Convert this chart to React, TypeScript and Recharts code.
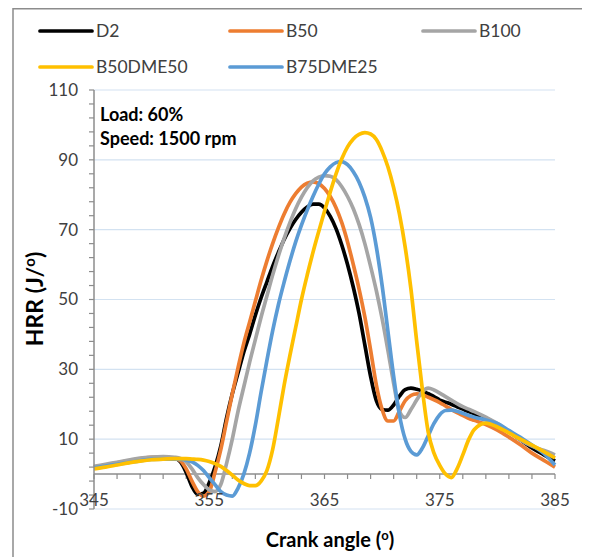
import React from 'react';
import { LineChart, Line, XAxis, YAxis, ReferenceLine } from 'recharts';

// crank angle (deg), finer steps around combustion
const angles = [
  345, 346, 347, 348, 349, 350, 351, 352,
  352.5, 353, 353.5, 354, 354.5, 355, 355.5, 356,
  356.5, 357, 357.5, 358, 358.5, 359, 359.5, 360,
  360.5, 361, 361.5, 362, 362.5, 363, 363.5, 364,
  364.5, 365, 365.5, 366, 366.5, 367, 367.5, 368,
  368.5, 369, 369.5, 370, 370.5, 371, 371.5, 372,
  372.5, 373, 373.5, 374, 374.5, 375, 375.5, 376,
  376.5, 377, 377.5, 378,
  379, 380, 381, 382, 383, 384, 385,
];

const d2 = [
  2.0, 2.5, 3.0, 3.7, 4.3, 4.6, 4.7, 4.5,
  3.5, 0.5, -3.5, -5.8, -5.5, -2.5, 2.0, 8.0,
  16, 23, 29, 35, 40, 45.5, 50.5, 55,
  59.5, 63.5, 67.2, 70.3, 72.9, 75, 76.5, 77.3,
  77.3, 76.2, 73.8, 70.3, 65.6, 60, 53.5, 46,
  37, 28, 21, 18.5, 18.3, 19.8, 22.3, 24.2,
  24.6, 24.3, 23.8, 23.0, 22.2, 21.2, 20.6, 20.0,
  19.3, 18.6, 17.9, 17.3,
  16.0, 14.2, 12.2, 9.8, 7.5, 5.6, 3.8,
];

const b50 = [
  2.0, 2.6, 3.2, 3.8, 4.4, 4.8, 4.8, 4.5,
  3.8, 1.5, -2.0, -5.0, -6.3, -5.0, 0.5, 7.0,
  15, 23, 30.5, 37.5, 43.5, 49.5, 55.5, 61,
  66, 70.5, 74.5, 77.8, 80.3, 82.2, 83.3, 83.7,
  83.2, 81.8, 79.5, 76.3, 72, 66.5, 60, 53,
  45, 35.5, 25.5, 18.5, 15.2, 15.2, 18, 21,
  22.5, 23, 22.7, 22, 21.3, 20.5, 19.5, 18.5,
  17.6, 16.8, 16, 15.4,
  14.2, 12.6, 10.6, 8.4, 6.0, 4.0, 2.0,
];

const b100 = [
  2.2, 2.8, 3.4, 4.0, 4.6, 4.9, 5.0, 4.8,
  4.5, 3.5, 1.5, -1.0, -3.0, -4.5, -5.0, -3.0,
  3.0, 10, 18, 25, 32, 38.5, 45, 51,
  57, 62.5, 67.5, 72, 76, 79.3, 82, 84,
  85, 85.5, 85.3, 84.3, 82.3, 79.5, 76, 71.5,
  66, 59.5, 52.5, 44.5, 35.5, 26, 18, 16.2,
  18.5, 21.2, 23.6, 24.6, 24.1, 23.2, 22.2, 21.2,
  20.2, 19.3, 18.6, 17.9,
  16.3, 14.5, 12.2, 9.8, 8.0, 6.8, 5.5,
];

const b50dme50 = [
  1.5, 2.0, 2.6, 3.2, 3.7, 4.1, 4.3, 4.4,
  4.4, 4.4, 4.3, 4.2, 4.0, 3.6, 3.0, 2.2,
  1.0, -0.3, -1.7, -2.7, -3.3, -3.3, -2.0, 1.0,
  7.0, 16, 25.5, 34, 42, 50, 57, 63.5,
  69.5, 75.3, 80.8, 86, 90.3, 93.7, 96, 97.3,
  97.8, 97.4, 95.8, 92.5, 88, 82, 74.5, 65,
  53, 38, 24, 12, 6, 2.5, 0, -1.0,
  1.5, 5.5, 9.8, 12.8,
  14.6, 13.5, 11.8, 10, 8.3, 6.5, 4.6,
];

const b75dme25 = [
  1.8, 2.3, 2.8, 3.3, 3.8, 4.2, 4.3, 4.3,
  4.2, 4.0, 3.5, 2.5, 1.0, -1.0, -3.0, -5.0,
  -6.0, -6.3, -4.0, 0, 6, 14, 23.5, 32.5,
  41, 48.5, 55, 61, 66.5, 71.3, 75.6, 79.5,
  83, 86, 88, 89.2, 89.5, 88.6, 86.6, 83.6,
  79.3, 73.5, 65, 54, 41, 28, 17, 10,
  6.5, 5.5, 7.5, 11, 14.5, 17, 18.2, 18.3,
  18, 17.4, 16.8, 16.3,
  15.5, 14.5, 12.5, 10.5, 8.3, 6.0, 2.6,
];

const series = [
  { key: 'D2', color: '#000000', values: d2 },
  { key: 'B50', color: '#ED7D31', values: b50 },
  { key: 'B100', color: '#A5A5A5', values: b100 },
  { key: 'B50DME50', color: '#FFC000', values: b50dme50 },
  { key: 'B75DME25', color: '#5B9BD5', values: b75dme25 },
];
const drawOrder = ['D2', 'B50', 'B100', 'B75DME25', 'B50DME50'];

const xMajorTicks = [345, 355, 365, 375, 385];
const xMinorTicks = [345, 347, 349, 351, 353, 355, 357, 359, 361, 363, 365, 367, 369, 371, 373, 375, 377, 379, 381, 383, 385];
const yMajorTicks = [-10, 10, 30, 50, 70, 90, 110];
const yMinorTicks = [-10, -6, -2, 2, 6, 10, 14, 18, 22, 26, 30, 34, 38, 42, 46, 50, 54, 58, 62, 66, 70, 74, 78, 82, 86, 90, 94, 98, 102, 106, 110];

const notes = ['Load: 60%', 'Speed: 1500 rpm'];

const data = angles.map((a, i) => {
  const row: any = { angle: a };
  series.forEach((s) => { row[s.key] = s.values[i]; });
  return row;
});

const FONT = "Lato, 'Open Sans', sans-serif";
const W = 582;
const H = 549;
const legendSlots = [
  { x: 32, y: 23 }, { x: 222, y: 23 }, { x: 415, y: 23 },
  { x: 32, y: 59 }, { x: 222, y: 59 },
];

const YTick = ({ x, y, payload }: any) => {
  if (!yMajorTicks.includes(payload.value)) return <g />;
  return (
    <text x={x} y={y} dy="0.35em" textAnchor="end" fontSize={17} fill="#404040" fontFamily={FONT}>
      {payload.value}
    </text>
  );
};

const XTick = ({ x, y, payload }: any) => (
  <text x={x} y={y - 9} dy="0.35em" textAnchor="middle" fontSize={17} fill="#404040" fontFamily={FONT}>
    {payload.value}
  </text>
);

export default function App() {
  return (
    <div style={{ position: 'relative', width: W, height: H, background: '#fff' }}>
      <LineChart width={W} height={H} data={data} margin={{ top: 82, right: 35, left: 26, bottom: 28 }}>
        {yMajorTicks.map((v) => (
          <ReferenceLine key={'g' + v} y={v} stroke="#D3E2F1" strokeWidth={1.2} />
        ))}
        <XAxis
          dataKey="angle"
          type="number"
          domain={[345, 385]}
          ticks={xMajorTicks}
          interval={0}
          axisLine={false}
          tickLine={false}
          tickSize={0}
          tickMargin={0}
          height={20}
          tick={<XTick />}
        />
        <YAxis
          type="number"
          domain={[-10, 110]}
          ticks={yMinorTicks}
          interval={0}
          width={60}
          tickSize={5}
          tickMargin={11}
          axisLine={{ stroke: '#8C8C8C', strokeWidth: 1.5 }}
          tickLine={{ stroke: '#8C8C8C', strokeWidth: 1.2 }}
          tick={<YTick />}
        />
        <ReferenceLine y={0} stroke="#8C8C8C" strokeWidth={1.5} />
        {xMinorTicks.map((t) => (
          <ReferenceLine key={'t' + t} segment={[{ x: t, y: 0 }, { x: t, y: -1.4 }]} stroke="#8C8C8C" strokeWidth={1.2} />
        ))}
        {drawOrder.map((k) => {
          const s = series.find((d) => d.key === k)!;
          return (
            <Line
              key={k}
              dataKey={k}
              type="monotone"
              stroke={s.color}
              strokeWidth={3.7}
              dot={false}
              isAnimationActive={false}
            />
          );
        })}
      </LineChart>
      <svg width={W} height={H} style={{ position: 'absolute', left: 0, top: 0, pointerEvents: 'none' }} fontFamily={FONT}>
        <rect x={5} y={0.75} width={572} height={H + 10} fill="none" stroke="#8C8C8C" strokeWidth={1.5} />
        {series.map((s, i) => (
          <g key={s.key}>
            <line x1={legendSlots[i].x} x2={legendSlots[i].x + 52} y1={legendSlots[i].y} y2={legendSlots[i].y} stroke={s.color} strokeWidth={3.7} strokeLinecap="round" />
            <text x={legendSlots[i].x + 56} y={legendSlots[i].y} dy="0.35em" fontSize={17.5} fill="#404040">{s.key}</text>
          </g>
        ))}
        {notes.map((n, i) => (
          <text key={n} x={92} y={107 + i * 24} dy="0.35em" fontSize={18} fontWeight="bold" fill="#000">{n}</text>
        ))}
        <text x={322} y={532} dy="0.35em" textAnchor="middle" fontSize={20} fontWeight="bold" fill="#000">
          Crank angle (<tspan dy={-7} fontSize={13}>o</tspan><tspan dy={7}>)</tspan>
        </text>
        <text x={27} y={291} dy="0.35em" textAnchor="middle" fontSize={23} fontWeight="bold" fill="#000" transform="rotate(-90 27 291)">
          HRR (J/<tspan dy={-8} fontSize={15}>o</tspan><tspan dy={8}>)</tspan>
        </text>
      </svg>
    </div>
  );
}
